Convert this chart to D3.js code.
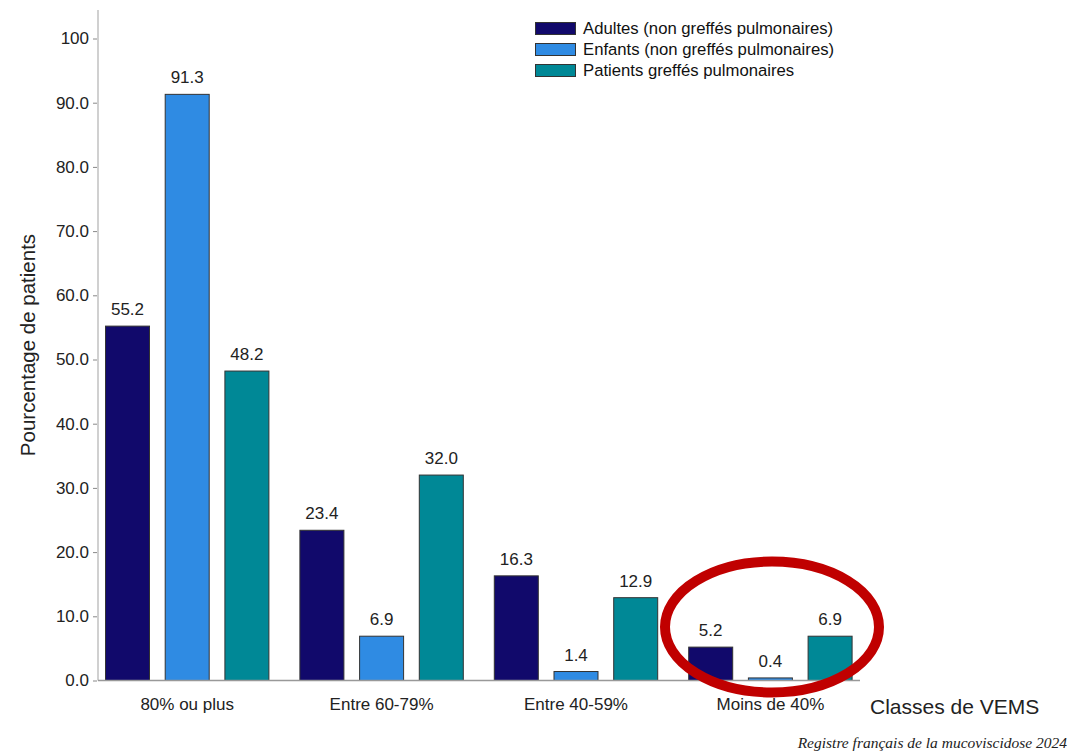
<!DOCTYPE html>
<html>
<head>
<meta charset="utf-8">
<script src="https://cdn.jsdelivr.net/npm/d3@7"></script>
<style>
  html, body { margin: 0; padding: 0; background: #fff; }
  svg { display: block; font-family: "Liberation Sans", Arial, sans-serif; }
</style>
</head>
<body>
<svg id="chart" width="1073" height="754"></svg>
<script>
// FEV1 classes (VEMS) and the share of patients in each, per population
const categories = ["80% ou plus", "Entre 60-79%", "Entre 40-59%", "Moins de 40%"];
const seriesNames = ["Adultes (non greffés pulmonaires)", "Enfants (non greffés pulmonaires)", "Patients greffés pulmonaires"];
const adultes = [55.2, 23.4, 16.3, 5.2];
const enfants = [91.3, 6.9, 1.4, 0.4];
const greffes = [48.2, 32.0, 12.9, 6.9];
const yTicks = [0, 10, 20, 30, 40, 50, 60, 70, 80, 90, 100];
const colors = ["#11096b", "#2f8be3", "#008896"];

const seriesValues = [adultes, enfants, greffes];
const rows = categories.map((c, i) => ({
  category: c,
  values: seriesNames.map((s, k) => ({ series: s, k, value: seriesValues[k][i] }))
}));

const svg = d3.select("#chart");

// Group layout: step ~194.4 px, group width ~164.4 px
const groupStep = 194.4;
const x0 = d3.scaleBand()
  .domain(categories)
  .range([90, 90 + 4 * groupStep])
  .paddingInner(30 / groupStep)
  .paddingOuter(15 / groupStep);

const x1 = d3.scaleBand()
  .domain(seriesNames)
  .range([0, x0.bandwidth()])
  .paddingInner(14.7 / 59.7)
  .paddingOuter(0);

const y = d3.scaleLinear().domain([0, 100]).range([680.5, 38.5]);

// Vertical axis
const axisX = 98;
svg.append("line")
  .attr("x1", axisX).attr("x2", axisX)
  .attr("y1", 10).attr("y2", y(0))
  .attr("stroke", "#d0d0d0").attr("stroke-width", 2);

const yAxis = d3.axisLeft(y)
  .tickValues(yTicks)
  .tickSize(4)
  .tickPadding(4)
  .tickFormat(d => d === 100 ? "100" : d3.format(".1f")(d));

const gy = svg.append("g")
  .attr("transform", `translate(${axisX - 1},0)`)
  .call(yAxis);
gy.select(".domain").remove();
gy.selectAll(".tick line").attr("stroke", "#888");
gy.selectAll(".tick text")
  .attr("fill", "#222")
  .style("font-size", "17px")
  .style("font-family", "'Liberation Sans', Arial, sans-serif");

// Y title
svg.append("text")
  .attr("transform", `translate(35, 345) rotate(-90)`)
  .attr("text-anchor", "middle")
  .attr("fill", "#222")
  .style("font-size", "20.5px")
  .text("Pourcentage de patients");

// Bars
const groups = svg.append("g").selectAll("g")
  .data(rows)
  .join("g")
  .attr("transform", d => `translate(${x0(d.category)},0)`);

groups.selectAll("rect")
  .data(d => d.values)
  .join("rect")
  .attr("x", d => x1(d.series) + 0.5)
  .attr("y", d => y(d.value))
  .attr("width", x1.bandwidth() - 1)
  .attr("height", d => y(0) - y(d.value))
  .attr("fill", d => colors[d.k])
  .attr("stroke", "#333")
  .attr("stroke-width", 1);

groups.selectAll("text.val")
  .data(d => d.values)
  .join("text")
  .attr("class", "val")
  .attr("x", d => x1(d.series) + x1.bandwidth() / 2)
  .attr("y", d => y(d.value) - 11)
  .attr("text-anchor", "middle")
  .attr("fill", "#222")
  .style("font-size", "17px")
  .text(d => d3.format(".1f")(d.value));

// Baseline
svg.append("line")
  .attr("x1", axisX).attr("x2", 860)
  .attr("y1", y(0)).attr("y2", y(0))
  .attr("stroke", "#999").attr("stroke-width", 1.5);

// Category labels
svg.append("g").selectAll("text")
  .data(categories)
  .join("text")
  .attr("x", d => x0(d) + x0.bandwidth() / 2)
  .attr("y", 710)
  .attr("text-anchor", "middle")
  .attr("fill", "#222")
  .style("font-size", "17px")
  .text(d => d);

svg.append("text")
  .attr("x", 870).attr("y", 714)
  .attr("fill", "#222")
  .style("font-size", "21px")
  .text("Classes de VEMS");

// Legend
const legend = svg.append("g").attr("transform", "translate(535,22)");
const li = legend.selectAll("g")
  .data(seriesNames)
  .join("g")
  .attr("transform", (d, i) => `translate(0, ${i * 21})`);
li.append("rect")
  .attr("x", 0.5).attr("y", 0.5)
  .attr("width", 40).attr("height", 12)
  .attr("fill", (d, i) => colors[i])
  .attr("stroke", "#333").attr("stroke-width", 1);
li.append("text")
  .attr("x", 48).attr("y", 12)
  .attr("fill", "#111")
  .style("font-size", "16.7px")
  .text(d => d);

// Highlight around the lowest FEV1 class
svg.append("ellipse")
  .attr("cx", 772).attr("cy", 627)
  .attr("rx", 107).attr("ry", 65.5)
  .attr("fill", "none")
  .attr("stroke", "#c00000")
  .attr("stroke-width", 10);

// Source
svg.append("text")
  .attr("x", 1067).attr("y", 748)
  .attr("text-anchor", "end")
  .attr("fill", "#222")
  .style("font-family", "'Liberation Serif', 'DejaVu Serif', serif")
  .style("font-style", "italic")
  .style("font-size", "15.5px")
  .text("Registre français de la mucoviscidose 2024");
</script>
</body>
</html>
